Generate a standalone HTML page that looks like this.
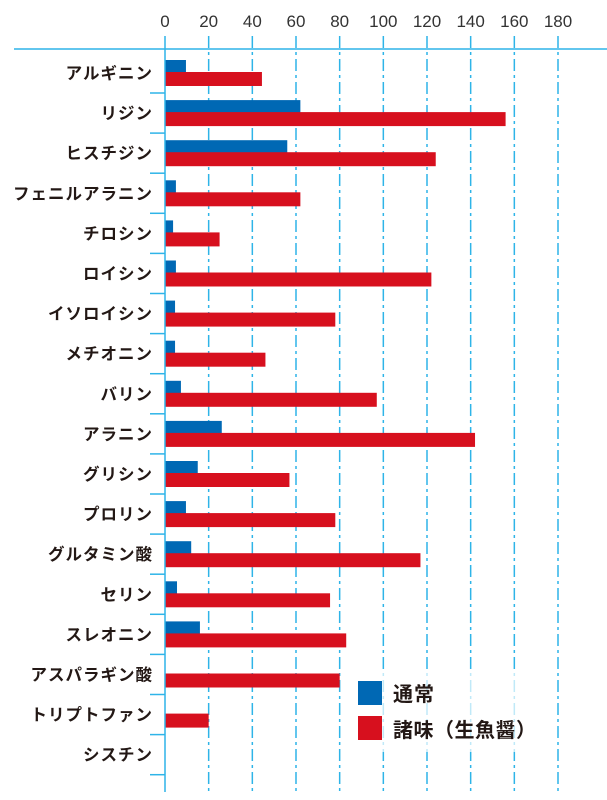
<!DOCTYPE html>
<html><head><meta charset="utf-8"><style>
body{margin:0;background:#fff;}
svg{display:block;font-family:"Liberation Sans","Noto Sans CJK JP",sans-serif;}
</style></head><body>
<svg id="c" width="607" height="800"></svg>
<script>
const categories=["アルギニン","リジン","ヒスチジン","フェニルアラニン","チロシン","ロイシン","イソロイシン","メチオニン","バリン","アラニン","グリシン","プロリン","グルタミン酸","セリン","スレオニン","アスパラギン酸","トリプトファン","シスチン"];
const normalValues=[9.6,62,56,5,3.7,5,4.6,4.6,7.3,26,15,9.6,12,5.5,16,0,0,0];
const sauceValues=[44.4,156,124,62,25,122,78,46,97,142,57,78,117,75.6,83,80,20,0];
const tickValues=[0,20,40,60,80,100,120,140,160,180];
const svg=document.getElementById('c');
const NS='http://www.w3.org/2000/svg';
const x0=165, ppu=(558-165)/180;
const xs=v=>x0+v*ppu;
const rowC=i=>73+i*40.1;
function mk(t,a){const e=document.createElementNS(NS,t);for(const k in a)e.setAttribute(k,a[k]);svg.appendChild(e);return e;}
let e=mk('line',{x1:14,y1:49,x2:607,y2:49,stroke:'#2eb4e8','stroke-width':1.5});


tickValues.forEach((v,i)=>{
  if(v>0){const g=mk('line',{x1:xs(v),y1:36,x2:xs(v),y2:792,stroke:'#2eb4e8','stroke-width':1.5,'stroke-dasharray':'12,4,3,4'});
  
  }
  const t=mk('text',{x:xs(v),y:27,'text-anchor':'middle','font-size':17,fill:'#333'});
  t.textContent=v;
  
  
});
categories.forEach((c,i)=>{
  const cy=rowC(i);
  const t=mk('text',{x:153,y:cy+6,'text-anchor':'end','font-size':16.5,'font-weight':'bold',fill:'#231815','letter-spacing':1});
  t.textContent=c;
  
  
  const tk=mk('line',{x1:150,y1:cy+20,x2:165,y2:cy+20,stroke:'#2eb4e8','stroke-width':1.5});
  
  
  if(normalValues[i]>0){const b=mk('rect',{x:x0,y:cy-13,width:xs(normalValues[i])-x0,height:13,fill:'#0068b4'});
  
  }
  if(sauceValues[i]>0){const r=mk('rect',{x:x0,y:cy-1,width:xs(sauceValues[i])-x0,height:14,fill:'#d7101e'});
  
  }
});
e=mk('line',{x1:x0,y1:36,x2:x0,y2:792,stroke:'#2eb4e8','stroke-width':1.5});


e=mk('rect',{x:350,y:672,width:200,height:80,fill:'#fff','fill-opacity':0.7});


e=mk('rect',{x:358,y:681,width:24,height:24,fill:'#0068b4'});


e=mk('rect',{x:358,y:716,width:24,height:24,fill:'#d7101e'});


e=mk('text',{x:393,y:701,'font-size':20,'font-weight':'bold',fill:'#231815','letter-spacing':1});e.textContent='通常';


e=mk('text',{x:393,y:737,'font-size':20,'font-weight':'bold',fill:'#231815','letter-spacing':0.5});e.textContent='諸味（生魚醤）';


</script>
</body></html>
